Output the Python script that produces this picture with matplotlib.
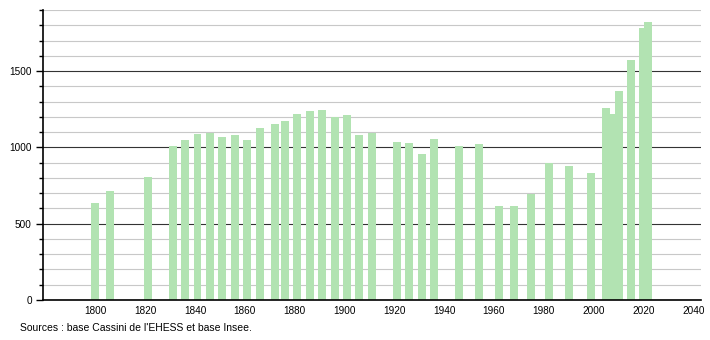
import numpy as np
import matplotlib
matplotlib.use('Agg')
import matplotlib.pyplot as plt
from matplotlib.ticker import MultipleLocator

# census years and population
years = [1800, 1806, 1821, 1831, 1836, 1841, 1846, 1851, 1856, 1861, 1866,
         1872, 1876, 1881, 1886, 1891, 1896, 1901, 1906, 1911, 1921, 1926,
         1931, 1936, 1946, 1954, 1962, 1968, 1975, 1982, 1990, 1999, 2005,
         2007, 2010, 2015, 2020, 2022]
population = [636, 712, 808, 1007, 1046, 1085, 1097, 1068, 1079, 1048, 1125,
              1151, 1171, 1217, 1237, 1243, 1202, 1214, 1079, 1096, 1035, 1026,
              954, 1057, 1009, 1020, 618, 618, 696, 900, 881, 829, 1255,
              1220, 1368, 1572, 1780, 1820]
xticks = list(range(1800, 2041, 20))
source = "Sources : base Cassini de l'EHESS et base Insee."

plt.rcParams['font.family'] = ['Liberation Sans', 'DejaVu Sans']

fig = plt.figure(figsize=(7.1, 3.4), dpi=100)
ax = fig.add_axes([0.0606, 0.1176, 0.9264, 0.853])

ax.bar(years, population, width=3.2, color='#b2e3b2', zorder=3)

ax.set_xlim(1779, 2043)
ax.set_ylim(0, 1900)
ax.set_xticks(xticks)
ax.yaxis.set_major_locator(MultipleLocator(500))
ax.yaxis.set_minor_locator(MultipleLocator(100))
ax.grid(axis='y', which='minor', color='#c8c8c8', linewidth=0.8, zorder=1)
ax.grid(axis='y', which='major', color='#333333', linewidth=0.8, zorder=2)

for s in ['top', 'right']:
    ax.spines[s].set_visible(False)
ax.spines['left'].set_linewidth(1.2)
ax.spines['bottom'].set_linewidth(1.2)
ax.spines['left'].set_zorder(4)
ax.spines['bottom'].set_zorder(4)

ax.tick_params(axis='x', length=0, labelsize=7.2, pad=4)
ax.tick_params(axis='y', which='major', length=5, width=1, labelsize=7.2, pad=3)
ax.tick_params(axis='y', which='minor', length=3, width=1)

fig.text(20 / 710, 1 - 328 / 340, source, fontsize=7.5, va='center', ha='left')

plt.savefig('out.png', dpi=100)
plt.close()
